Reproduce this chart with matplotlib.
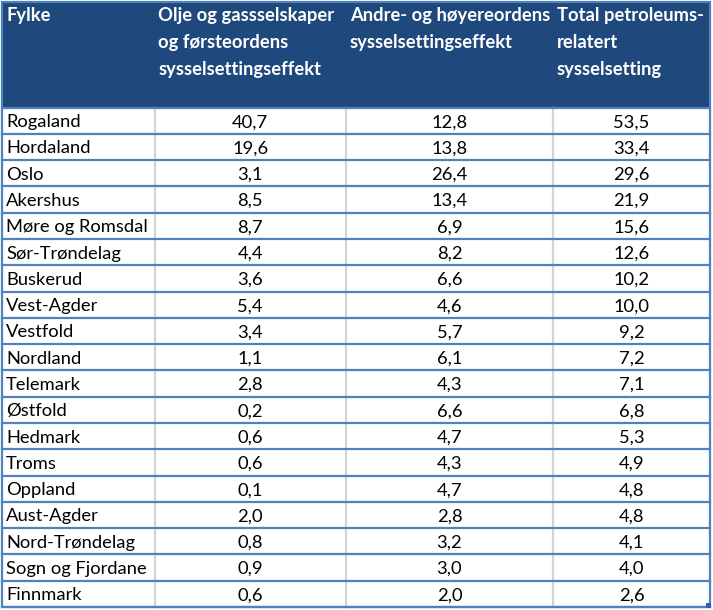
import matplotlib.pyplot as plt
from matplotlib.patches import Rectangle

plt.rcParams['font.family'] = ['Lato', 'DejaVu Sans']

# table contents
headers = ["Fylke",
           "Olje og gassselskaper\nog førsteordens\nsysselsettingseffekt",
           "Andre- og høyereordens\nsysselsettingseffekt",
           "Total petroleums-\nrelatert\nsysselsetting"]
fylker = ["Rogaland", "Hordaland", "Oslo", "Akershus", "Møre og Romsdal",
          "Sør-Trøndelag", "Buskerud", "Vest-Agder", "Vestfold", "Nordland",
          "Telemark", "Østfold", "Hedmark", "Troms", "Oppland", "Aust-Agder",
          "Nord-Trøndelag", "Sogn og Fjordane", "Finnmark"]
forste = [40.7, 19.6, 3.1, 8.5, 8.7, 4.4, 3.6, 5.4, 3.4, 1.1,
          2.8, 0.2, 0.6, 0.6, 0.1, 2.0, 0.8, 0.9, 0.6]
andre = [12.8, 13.8, 26.4, 13.4, 6.9, 8.2, 6.6, 4.6, 5.7, 6.1,
         4.3, 6.6, 4.7, 4.3, 4.7, 2.8, 3.2, 3.0, 2.0]
total = [53.5, 33.4, 29.6, 21.9, 15.6, 12.6, 10.2, 10.0, 9.2, 7.2,
         7.1, 6.8, 5.3, 4.9, 4.8, 4.8, 4.1, 4.0, 2.6]

W, H = 713, 610
col_x = [2, 154.5, 346, 553, 710]
top, head_bot, bottom = 2, 107.5, 607
row_h = (bottom - head_bot) / len(fylker)

header_bg = "#1F497D"
line_blue = "#4F81BD"
sep_grey = "#D4D4D4"
fs = 13.2

fig = plt.figure(figsize=(W / 100, H / 100), dpi=100)
ax = fig.add_axes([0, 0, 1, 1])
ax.set_xlim(0, W)
ax.set_ylim(H, 0)
ax.axis("off")

ax.add_patch(Rectangle((col_x[0], top), col_x[-1] - col_x[0], head_bot - top,
                       facecolor=header_bg, edgecolor="none", zorder=1))

for i, h in enumerate(headers):
    ax.text(col_x[i] + 4, top + 5.5, h, color="white", fontsize=13.2,
            fontweight="bold", va="top", ha="left", linespacing=1.7, zorder=3)


def fmt(v):
    return f"{v:.1f}".replace(".", ",")


for r, name in enumerate(fylker):
    yc = head_bot + (r + 0.5) * row_h + 1.5
    ax.text(col_x[0] + 4, yc, name, fontsize=fs, va="center", ha="left", zorder=3)
    for c, vals in enumerate([forste, andre, total], start=1):
        ax.text((col_x[c] + col_x[c + 1]) / 2, yc, fmt(vals[r]), fontsize=fs,
                va="center", ha="center", zorder=3)

# grey vertical separators in body
for x in col_x[1:-1]:
    ax.plot([x, x], [head_bot, bottom], color=sep_grey, lw=1.6, zorder=2)

# blue horizontal lines
for r in range(len(fylker) + 1):
    y = head_bot + r * row_h
    ax.plot([col_x[0], col_x[-1]], [y, y], color=line_blue, lw=1.6, zorder=2)

# outer border
ax.add_patch(Rectangle((col_x[0], top), col_x[-1] - col_x[0], bottom - top,
                       facecolor="none", edgecolor=line_blue, lw=1.6, zorder=4))
ax.add_patch(Rectangle((col_x[-1] - 4, bottom - 4), 5, 5,
                       facecolor="#3A5BA8", edgecolor="none", zorder=5))

fig.savefig("out.png", dpi=100)
